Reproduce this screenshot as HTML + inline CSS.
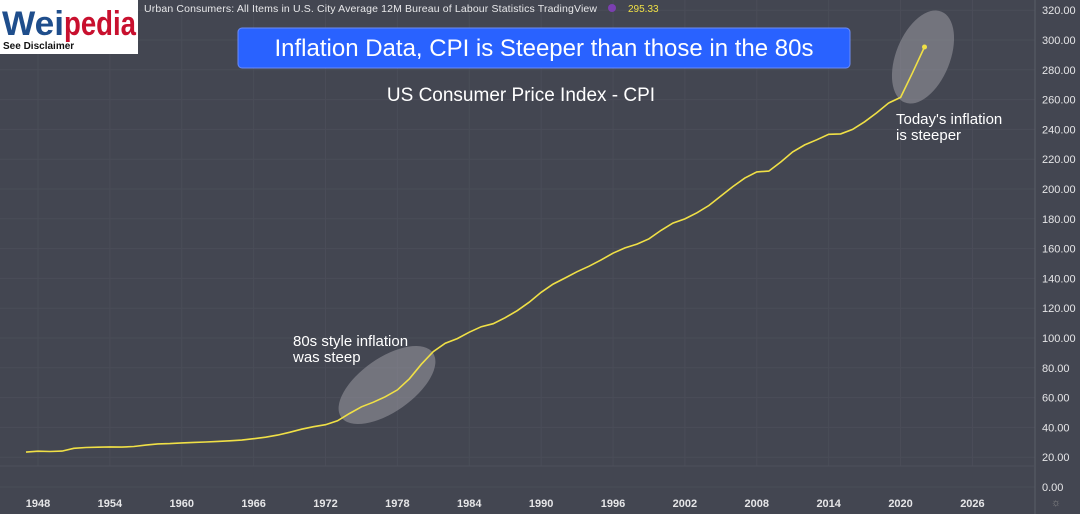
<!DOCTYPE html>
<html><head><meta charset="utf-8"><style>
body{margin:0;width:1080px;height:514px;overflow:hidden;background:#434651;font-family:"Liberation Sans",sans-serif}
svg{display:block}
</style></head><body>
<svg width="1080" height="514">
<rect x="0" y="0" width="1080" height="514" fill="#434651"/>
<g id="grid"></g>
<line x1="1035" y1="0" x2="1035" y2="514" stroke="#5a5d68"/>
<line x1="0" y1="466" x2="1035" y2="466" stroke="#4d505b"/>
<g id="yticks"></g>
<g id="xticks"></g>
<ellipse cx="387" cy="385" rx="56" ry="27" transform="rotate(-35 387 385)" fill="#9a9ba3" fill-opacity="0.55"/>
<ellipse cx="923" cy="57" rx="27" ry="49" transform="rotate(22 923 57)" fill="#9a9ba3" fill-opacity="0.55"/>
<path id="line" fill="none" stroke="#f0e046" stroke-width="1.6"/>
<circle id="lastpt" r="2.5" fill="#f0e046"/>
<text x="293" y="346" fill="#fff" font-size="15">80s style inflation</text>
<text x="293" y="362" fill="#fff" font-size="15">was steep</text>
<text x="896" y="124" fill="#fff" font-size="15">Today's inflation</text>
<text x="896" y="140" fill="#fff" font-size="15">is steeper</text>
<rect x="238" y="28" width="612" height="40" rx="4" fill="#2962ff" stroke="#6d8cf5"/>
<text x="544" y="56" fill="#fff" font-size="24" text-anchor="middle">Inflation Data, CPI is Steeper than those in the 80s</text>
<text x="521" y="101" fill="#fff" font-size="19" text-anchor="middle">US Consumer Price Index - CPI</text>
<rect x="0" y="0" width="138" height="54" fill="#fff"/>
<text x="2" y="35" font-size="34" font-weight="bold" fill="#1f4e8c" textLength="62" lengthAdjust="spacingAndGlyphs">Wei</text>
<text x="64" y="35" font-size="34" font-weight="bold" fill="#c8102e" textLength="72" lengthAdjust="spacingAndGlyphs">pedia</text>
<text x="3" y="49" font-size="10" font-weight="bold" fill="#111">See Disclaimer</text>
<text x="144" y="12" font-size="10.5" fill="#e8e8ea" textLength="453" lengthAdjust="spacing">Urban Consumers: All Items in U.S. City Average   12M   Bureau of Labour Statistics   TradingView</text>
<circle cx="612" cy="8" r="4" fill="#7b3fb0"/>
<text x="628" y="12" font-size="10" fill="#f0e046">295.33</text>
<text x="1051" y="506" font-size="11" fill="#888">☼</text>
</svg>
<script>
const years=[1947,1948,1949,1950,1951,1952,1953,1954,1955,1956,1957,1958,1959,1960,1961,1962,1963,1964,1965,1966,1967,1968,1969,1970,1971,1972,1973,1974,1975,1976,1977,1978,1979,1980,1981,1982,1983,1984,1985,1986,1987,1988,1989,1990,1991,1992,1993,1994,1995,1996,1997,1998,1999,2000,2001,2002,2003,2004,2005,2006,2007,2008,2009,2010,2011,2012,2013,2014,2015,2016,2017,2018,2019,2020,2021,2022];
const cpi=[23.4,24.0,23.8,24.1,26.0,26.5,26.7,26.9,26.8,27.2,28.1,28.9,29.1,29.6,29.9,30.2,30.6,31.0,31.5,32.4,33.4,34.8,36.7,38.8,40.5,41.8,44.4,49.3,53.8,56.9,60.6,65.2,72.6,82.4,90.9,96.5,99.6,103.9,107.6,109.6,113.6,118.3,124.0,130.7,136.2,140.3,144.5,148.2,152.4,156.9,160.5,163.0,166.6,172.2,177.1,179.9,184.0,188.9,195.3,201.6,207.3,211.5,212.0,218.1,224.9,229.6,233.0,236.7,237.0,240.0,245.1,251.1,257.7,261.5,278.0,295.33];
const yTicks=[0,20,40,60,80,100,120,140,160,180,200,220,240,260,280,300,320];
const xTicks=[1948,1954,1960,1966,1972,1978,1984,1990,1996,2002,2008,2014,2020,2026];
const NS="http://www.w3.org/2000/svg";
const xs=y=>38+(y-1948)*11.98;
const ys=v=>487-v*1.49;
const grid=document.getElementById('grid'),yt=document.getElementById('yticks'),xt=document.getElementById('xticks');
yTicks.forEach(v=>{
 const l=document.createElementNS(NS,'line');
 l.setAttribute('x1',0);l.setAttribute('x2',1035);l.setAttribute('y1',ys(v));l.setAttribute('y2',ys(v));
 l.setAttribute('stroke','#4a4d58');
 
 
 grid.appendChild(l);
 const t=document.createElementNS(NS,'text');
 t.setAttribute('x',1042);t.setAttribute('y',ys(v)+4);t.setAttribute('font-size','11');t.setAttribute('fill','#e6e6e8');
 t.textContent=v.toFixed(2);
 
 
 yt.appendChild(t);
});
xTicks.forEach(y=>{
 const l=document.createElementNS(NS,'line');
 l.setAttribute('x1',xs(y));l.setAttribute('x2',xs(y));l.setAttribute('y1',0);l.setAttribute('y2',466);
 l.setAttribute('stroke','#4a4d58');
 
 
 grid.appendChild(l);
 const t=document.createElementNS(NS,'text');
 t.setAttribute('x',xs(y));t.setAttribute('y',507);t.setAttribute('font-size','11');t.setAttribute('font-weight','bold');
 t.setAttribute('fill','#e6e6e8');t.setAttribute('text-anchor','middle');
 t.textContent=y;
 
 
 xt.appendChild(t);
});
document.getElementById('line').setAttribute('d',years.map((y,i)=>(i?'L':'M')+xs(y).toFixed(1)+','+ys(cpi[i]).toFixed(1)).join(''));
const lp=document.getElementById('lastpt');
lp.setAttribute('cx',xs(years[years.length-1]));lp.setAttribute('cy',ys(cpi[cpi.length-1]));
</script>
</body></html>
